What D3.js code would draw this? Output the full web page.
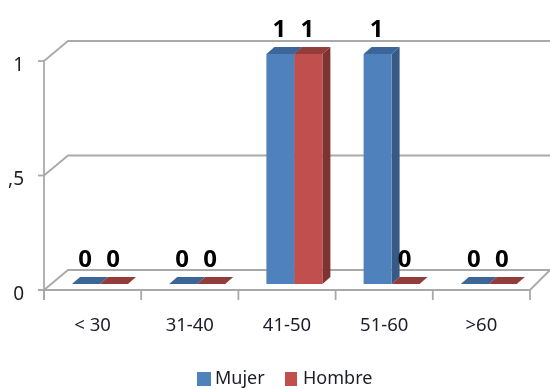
<!DOCTYPE html>
<html><head><meta charset="utf-8">
<script src="https://cdn.jsdelivr.net/npm/d3@7"></script>
<style>html,body{margin:0;padding:0;background:#fff;overflow:hidden}svg{display:block}text{font-family:"Noto Sans",sans-serif;fill:#1c1c2a}</style>
</head><body><svg id="c" width="550" height="389"></svg>
<script>
const categories = ["< 30","31-40","41-50","51-60",">60"];
const seriesNames = ["Mujer","Hombre"];
const mujer = [0,0,1,1,0];
const hombre = [0,0,1,0,0];
const yTicks = [0,0.5,1];
const yTickLabels = ["0","0,5","1"];
const colors = {Mujer:{front:"#4f81bd",side:"#355a86",top:"#3c6698"},Hombre:{front:"#c0504d",side:"#7f3230",top:"#933c3a"}};

const svg = d3.select("#c");
const defs = svg.append("defs");
defs.append("filter").attr("id","soft").attr("x","-5%").attr("y","-5%").attr("width","110%").attr("height","110%")
  .append("feGaussianBlur").attr("stdDeviation",0.45);
defs.append("clipPath").attr("id","leftClip").append("rect").attr("x",8).attr("y",0).attr("width",542).attr("height",389);

const root = svg.append("g").attr("filter","url(#soft)");
const x = d3.scaleBand().domain(categories).range([44,530]);
const wallY = d3.scaleLinear().domain([0,1]).range([290,61]);
const barY = d3.scaleLinear().domain([0,1]).range([284,54]);
const sub = d3.scaleBand().domain(seriesNames).range([0,56]);
const gridColor = "#a9a9a9";
const wallDx = 24, wallDy = 20, dx = 8, dy = 7, barOffset = 28;

// walls and gridlines
const grid = root.append("g").attr("fill","none").attr("stroke",gridColor).attr("stroke-width",1.8);
yTicks.forEach(t=>{
  const y0 = wallY(t);
  grid.append("path").attr("d",d3.line()([[44,y0],[44+wallDx,y0-wallDy],[550,y0-wallDy]]));
  grid.append("path").attr("d",d3.line()([[38,y0],[44,y0]]));
});
grid.append("path").attr("d",d3.line()([[44,wallY(1)],[44,300]]));
grid.append("path").attr("d",d3.line()([[38,wallY(0)],[530,wallY(0)],[550,wallY(0)-wallDy]]));
[...categories.map(c=>x(c)),530].forEach(p=>{
  grid.append("path").attr("d",d3.line()([[p,290],[p,300]]));
});

// bars
const data = seriesNames.map((s,i)=>({name:s,values:i===0?mujer:hombre}));
data.forEach(s=>{
  const g = root.append("g");
  s.values.forEach((v,i)=>{
    const c = categories[i];
    const x0 = x(c)+barOffset+sub(s.name), w = sub.bandwidth(), yt = barY(v), yb = barY(0);
    const col = colors[s.name];
    g.append("path").attr("fill",col.side).attr("d",d3.line()([[x0+w,yt],[x0+w+dx,yt-dy],[x0+w+dx,yb-dy],[x0+w,yb]])+"Z");
    g.append("path").attr("fill",col.top).attr("d",d3.line()([[x0,yt],[x0+dx,yt-dy],[x0+w+dx,yt-dy],[x0+w,yt]])+"Z");
    if(v>0) g.append("rect").attr("x",x0).attr("y",yt).attr("width",w).attr("height",yb-yt).attr("fill",col.front);
  });
});

// value labels
data.forEach(s=>{
  s.values.forEach((v,i)=>{
    root.append("text").attr("x",x(categories[i])+barOffset+sub(s.name)+sub.bandwidth()/2-1)
      .attr("y",barY(v)-26).attr("dy","0.36em").attr("text-anchor","middle")
      .attr("font-size",24).attr("font-weight",700).style("fill","#000").text(v);
  });
});

// y labels
const yLab = root.append("g").attr("clip-path","url(#leftClip)");
yTicks.forEach((t,i)=>{
  yLab.append("text").attr("x",24).attr("y",wallY(t)+3).attr("dy","0.36em").attr("text-anchor","end")
    .attr("font-size",19).text(yTickLabels[i]);
});

// x labels
const axis = root.append("g").attr("transform","translate(0,324)")
  .call(d3.axisBottom(x).tickSize(0).tickPadding(0));
axis.select(".domain").remove();
axis.selectAll("text").attr("y",0).attr("dy","0.36em").attr("font-size",18.5).style("font-family",'"Noto Sans",sans-serif').style("fill","#1c1c2a");

// legend
const legendX = [197,285], legendTextX = [215,303];
seriesNames.forEach((s,i)=>{
  root.append("rect").attr("x",legendX[i]).attr("y",372).attr("width",i?12:14).attr("height",14).attr("fill",colors[s].front);
  root.append("text").attr("x",legendTextX[i]).attr("y",378).attr("dy","0.36em").attr("font-size",18).text(s);
});
</script></body></html>
